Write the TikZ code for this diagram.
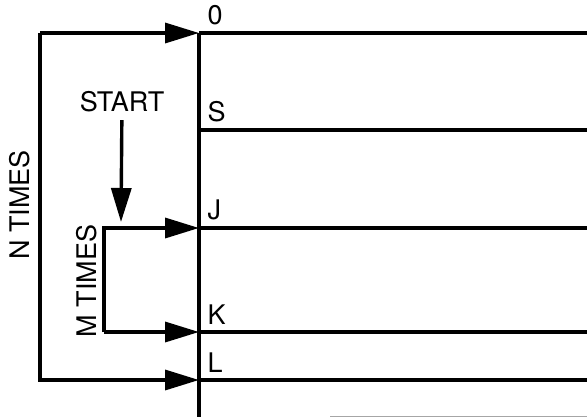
\documentclass[tikz,border=0pt]{standalone}
\usepackage{fontspec}
\setmainfont{TeX Gyre Heros}
\usetikzlibrary{arrows.meta}

\begin{document}
\begin{tikzpicture}[x=0.5pt,y=-0.5pt,line width=1.7pt,
	font=\fontsize{13.5}{15}\selectfont,
	big/.style={-{Triangle[length=17pt,width=10pt]}}]
	\useasboundingbox (0,0) rectangle (587,417);
	\path
	(199,33) coordinate (O)
	(199,417) coordinate (B)
	(40,33) coordinate (Ntop)
	(40,380) coordinate (Nbot)
	(104,228) coordinate (Mtop)
	(104,332) coordinate (Mbot)
	(121,222) coordinate (go);
	% the levels on the main line
	\foreach \p/\t/\y in {O/0/33,S/S/130,J/J/228,K/K/332,L/L/380}{
		\coordinate (\p) at (199,\y);
		\coordinate (\p r) at (587,\y);
		\draw (\p) -- (\p r);
		\node[anchor=south west,inner sep=0pt] (\p t) at ([shift={(7,-6)}]\p) {\t};
	}
	\draw (O) -- (B);
	% outer loop
	\draw[big] (Ntop) -- (O);
	\draw[big] (Ntop) -- (Nbot) -- (L);
	\node[rotate=90] (ntimes) at (20,205) {N TIMES};
	% inner loop
	\draw[big] (Mbot) -- (Mtop) -- (J);
	\draw[big] (Mbot) -- (K);
	\node[rotate=90] (mtimes) at (87,281) {M TIMES};
	\node[inner sep=3pt] (start) at (122,102) {START};
	\draw[big] (start) -- (go);
	% next level, cut off at the edge
	\coordinate (X) at (330,416.5);
	\coordinate (Xr) at (587,416.5);
	\draw[black!35,line width=0.6pt] (X) -- (Xr);
\end{tikzpicture}
\end{document}
